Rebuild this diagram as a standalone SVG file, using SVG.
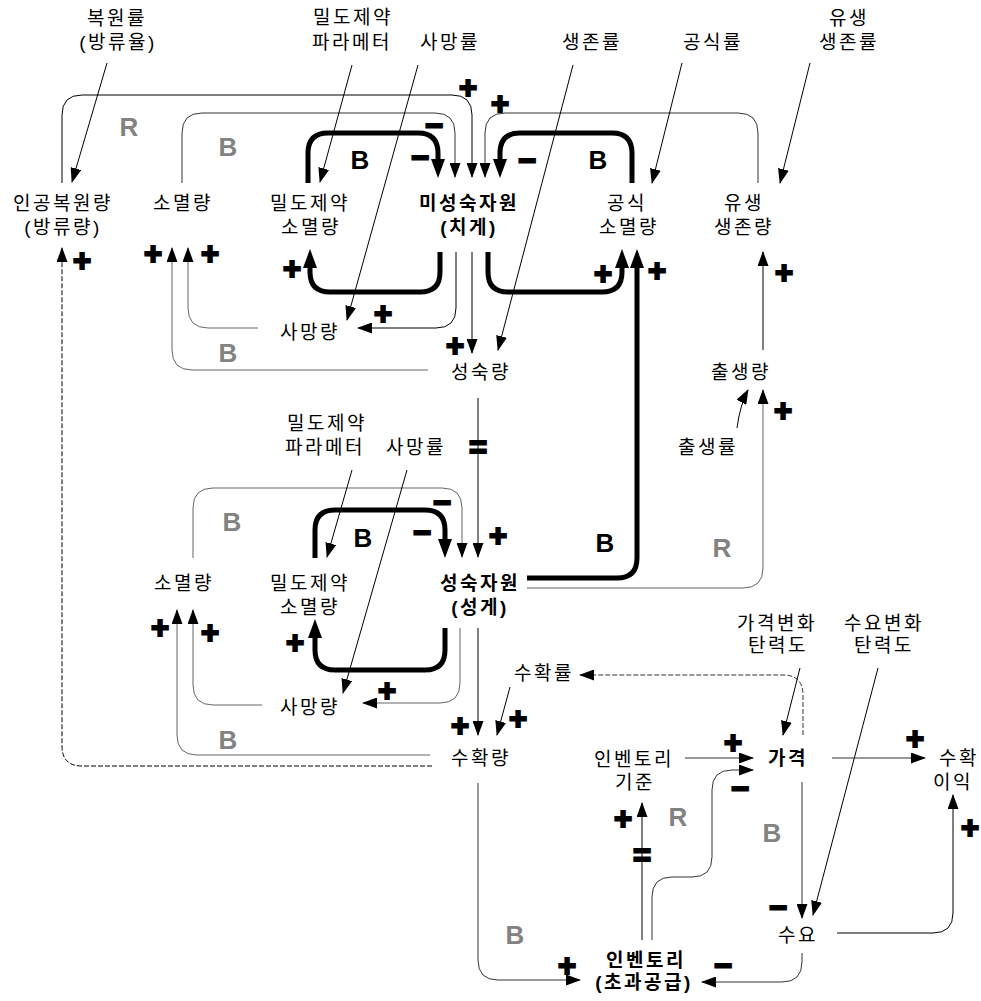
<svg xmlns="http://www.w3.org/2000/svg" width="981" height="1001" viewBox="0 0 981 1001">
<defs>
<style>
.t{font-family:"Liberation Sans","Noto Sans CJK KR",sans-serif;font-size:19px;letter-spacing:2.5px;text-anchor:middle;dominant-baseline:central;fill:#000}
.bd{font-weight:bold}
.s{font-family:"Liberation Sans",sans-serif;font-size:31px;font-weight:bold;text-anchor:middle;dominant-baseline:central;fill:#000;stroke:#000;stroke-width:2}
.L{font-family:"Liberation Sans",sans-serif;font-size:26px;font-weight:bold;text-anchor:middle;dominant-baseline:central}
.lk{fill:#000}
.lg{fill:#828282}
.c{fill:none;stroke:#000;stroke-width:1;marker-end:url(#a)}
.g{stroke:#666}
.dg{stroke:#333}
.d{stroke-dasharray:5,2}
.k{fill:none;stroke:#000;stroke-width:5;marker-end:url(#A)}
</style>
<marker id="a" markerUnits="userSpaceOnUse" markerWidth="15" markerHeight="11" refX="14" refY="5.5" orient="auto"><path d="M0,0 L15,5.5 L0,11 Z" fill="#000"/></marker>
<marker id="A" markerUnits="userSpaceOnUse" markerWidth="19" markerHeight="14" refX="11" refY="7" orient="auto"><path d="M0,0 L19,7 L0,14 Z" fill="#000"/></marker>
</defs>
<rect width="981" height="1001" fill="#fff"/>

<g id="connectors">
<path class="k" d="M308,183 V153 Q308,133 328,133 H418 Q438,133 438,153 V170"/>
<path class="k" d="M440,252 V272 Q440,292 420,292 H330 Q310,292 310,272 V257"/>
<path class="k" d="M632,183 V153 Q632,133 612,133 H520 Q500,133 500,153 V170"/>
<path class="k" d="M488,252 V272 Q488,292 508,292 H602 Q622,292 622,272 V257"/>
<path class="k" d="M527,578 H617 Q637,578 637,558 V257"/>
<path class="k" d="M315,558 V530 Q315,510 335,510 H425 Q445,510 445,530 V550"/>
<path class="k" d="M445,628 V650 Q445,670 425,670 H335 Q315,670 315,650 V627"/>
<path class="c" d="M62,183 V115 Q62,95 82,95 H452 Q472,95 472,115 V177"/>
<path class="c dg" d="M182,183 V133 Q182,113 202,113 H435 Q455,113 455,133 V177"/>
<path class="c dg" d="M758,183 V133 Q758,113 738,113 H505 Q485,113 485,133 V177"/>
<path class="c" d="M456,252 V308 Q456,328 436,328 H358"/>
<path class="c" d="M472,252 V353"/>
<path class="c" d="M573,65 L498,350"/>
<path class="c" d="M418,65 L347,320"/>
<path class="c" d="M352,65 L320,182"/>
<path class="c" d="M107,63 L72,182"/>
<path class="c" d="M682,63 L652,183"/>
<path class="c" d="M810,63 L780,183"/>
<path class="c g" d="M258,328 H208 Q188,328 188,308 V248"/>
<path class="c g" d="M428,370 H192 Q172,370 172,350 V248"/>
<path class="c" d="M478,398 V557"/>
<path class="c g" d="M193,558 V508 Q193,488 213,488 H442 Q462,488 462,508 V557"/>
<path class="c g" d="M460,628 V683 Q460,703 440,703 H363"/>
<path class="c g" d="M262,705 H213 Q193,705 193,685 V610"/>
<path class="c g" d="M430,755 H197 Q177,755 177,735 V610"/>
<path class="c" d="M407,470 L343,693"/>
<path class="c" d="M352,470 L327,557"/>
<path class="c" d="M478,628 V735"/>
<path class="c" d="M510,687 L497,735"/>
<path class="c g" d="M527,588 H743 Q763,588 763,568 V390"/>
<path class="c" d="M737,428 Q740,405 748,390"/>
<path class="c" d="M763,350 V252"/>
<path class="c d" d="M432,766 H82 Q62,766 62,746 V248"/>
<path class="c d dg" d="M803,735 V695 Q803,675 783,675 H580"/>
<path class="c" d="M800,668 L783,735"/>
<path class="c" d="M878,668 L813,915"/>
<path class="c dg" d="M802,782 V918"/>
<path class="c dg" d="M832,758 H925"/>
<path class="c" d="M837,933 H933 Q953,933 953,913 V795"/>
<path class="c dg" d="M802,953 V962 Q802,982 782,982 H702"/>
<path class="c dg" d="M685,758 H753"/>
<path class="c dg" d="M652,940 V897 Q652,877 672,877 H692 Q712,877 712,857 V790 Q712,770 732,770 H753"/>
<path class="c" d="M642,940 V803"/>
<path class="c dg" d="M478,783 V960 Q478,980 498,980 H580"/>
</g>

<g id="signs">
<text class="s" x="468" y="87">+</text>
<text class="s" x="500" y="103">+</text>
<text class="s" x="153" y="253">+</text>
<text class="s" x="210" y="253">+</text>
<text class="s" x="82" y="260">+</text>
<text class="s" x="292" y="268">+</text>
<text class="s" x="383" y="313">+</text>
<text class="s" x="455" y="345">+</text>
<text class="s" x="603" y="273">+</text>
<text class="s" x="657" y="270">+</text>
<text class="s" x="784" y="272">+</text>
<text class="s" x="783" y="410">+</text>
<text class="s" x="498" y="535">+</text>
<text class="s" x="295" y="642">+</text>
<text class="s" x="387" y="690">+</text>
<text class="s" x="210" y="632">+</text>
<text class="s" x="160" y="627">+</text>
<text class="s" x="460" y="725">+</text>
<text class="s" x="518" y="718">+</text>
<text class="s" x="567" y="965">+</text>
<text class="s" x="623" y="818">+</text>
<text class="s" x="733" y="742">+</text>
<text class="s" x="915" y="738">+</text>
<text class="s" x="970" y="827">+</text>
<text class="s" x="434" y="125">−</text>
<text class="s" x="420" y="157">−</text>
<text class="s" x="527" y="160">−</text>
<text class="s" x="442" y="502">−</text>
<text class="s" x="422" y="532">−</text>
<text class="s" x="778" y="907">−</text>
<text class="s" x="723" y="965">−</text>
<text class="s" x="740" y="788">−</text>
<text class="s" x="478" y="447">=</text>
<text class="s" x="642" y="855">=</text>
</g>

<g id="loop-labels">
<text class="L lg" x="129" y="127">R</text>
<text class="L lg" x="228" y="147">B</text>
<text class="L lg" x="228" y="353">B</text>
<text class="L lk" x="360" y="160">B</text>
<text class="L lk" x="598" y="160">B</text>
<text class="L lg" x="232" y="522">B</text>
<text class="L lk" x="363" y="538">B</text>
<text class="L lk" x="605" y="543">B</text>
<text class="L lg" x="722" y="548">R</text>
<text class="L lg" x="228" y="740">B</text>
<text class="L lg" x="515" y="935">B</text>
<text class="L lg" x="678" y="817">R</text>
<text class="L lg" x="772" y="833">B</text>
</g>

<g id="n-bokwonryul"><text class="t" x="117" y="18">복원률</text><text class="t" x="118" y="42">(방류율)</text></g>
<g id="n-mildo-param1"><text class="t" x="353" y="17">밀도제약</text><text class="t" x="352" y="42">파라메터</text></g>
<g id="n-samangryul1"><text class="t" x="450" y="42">사망률</text></g>
<g id="n-saengjonryul"><text class="t" x="592" y="42">생존률</text></g>
<g id="n-gongsikryul"><text class="t" x="713" y="42">공식률</text></g>
<g id="n-yusaeng-ryul"><text class="t" x="849" y="18">유생</text><text class="t" x="849" y="42">생존률</text></g>
<g id="n-ingong"><text class="t" x="63" y="203">인공복원량</text><text class="t" x="63" y="227">(방류량)</text></g>
<g id="n-somyeol1"><text class="t" x="183" y="203">소멸량</text></g>
<g id="n-mildosomyeol1"><text class="t" x="310" y="203">밀도제약</text><text class="t" x="311" y="227">소멸량</text></g>
<g id="n-miseongsuk"><text class="t bd" x="469" y="203">미성숙자원</text><text class="t bd" x="469" y="227">(치게)</text></g>
<g id="n-gongsik"><text class="t" x="627" y="203">공식</text><text class="t" x="629" y="227">소멸량</text></g>
<g id="n-yusaengjon"><text class="t" x="744" y="203">유생</text><text class="t" x="744" y="227">생존량</text></g>
<g id="n-samang1"><text class="t" x="310" y="332">사망량</text></g>
<g id="n-seongsukryang"><text class="t" x="481" y="372">성숙량</text></g>
<g id="n-chulsaeng"><text class="t" x="741" y="372">출생량</text></g>
<g id="n-chulsaengryul"><text class="t" x="708" y="447">출생률</text></g>
<g id="n-mildo-param2"><text class="t" x="327" y="423">밀도제약</text><text class="t" x="325" y="447">파라메터</text></g>
<g id="n-samangryul2"><text class="t" x="416" y="447">사망률</text></g>
<g id="n-somyeol2"><text class="t" x="184" y="583">소멸량</text></g>
<g id="n-mildosomyeol2"><text class="t" x="310" y="583">밀도제약</text><text class="t" x="310" y="607">소멸량</text></g>
<g id="n-seongsuk"><text class="t bd" x="480" y="583">성숙자원</text><text class="t bd" x="480" y="607">(성게)</text></g>
<g id="n-samang2"><text class="t" x="310" y="707">사망량</text></g>
<g id="n-suhwakryul"><text class="t" x="544" y="673">수확률</text></g>
<g id="n-suhwakryang"><text class="t" x="481" y="758">수확량</text></g>
<g id="n-invstd"><text class="t" x="634" y="759">인벤토리</text><text class="t" x="635" y="782">기준</text></g>
<g id="n-price"><text class="t bd" x="788" y="758">가격</text></g>
<g id="n-pelast"><text class="t" x="777" y="623">가격변화</text><text class="t" x="778" y="645">탄력도</text></g>
<g id="n-delast"><text class="t" x="884" y="623">수요변화</text><text class="t" x="884" y="645">탄력도</text></g>
<g id="n-profit"><text class="t" x="959" y="758">수확</text><text class="t" x="953" y="782">이익</text></g>
<g id="n-demand"><text class="t" x="798" y="935">수요</text></g>
<g id="n-inventory"><text class="t bd" x="646" y="960">인벤토리</text><text class="t bd" x="644" y="982">(초과공급)</text></g>
</svg>
